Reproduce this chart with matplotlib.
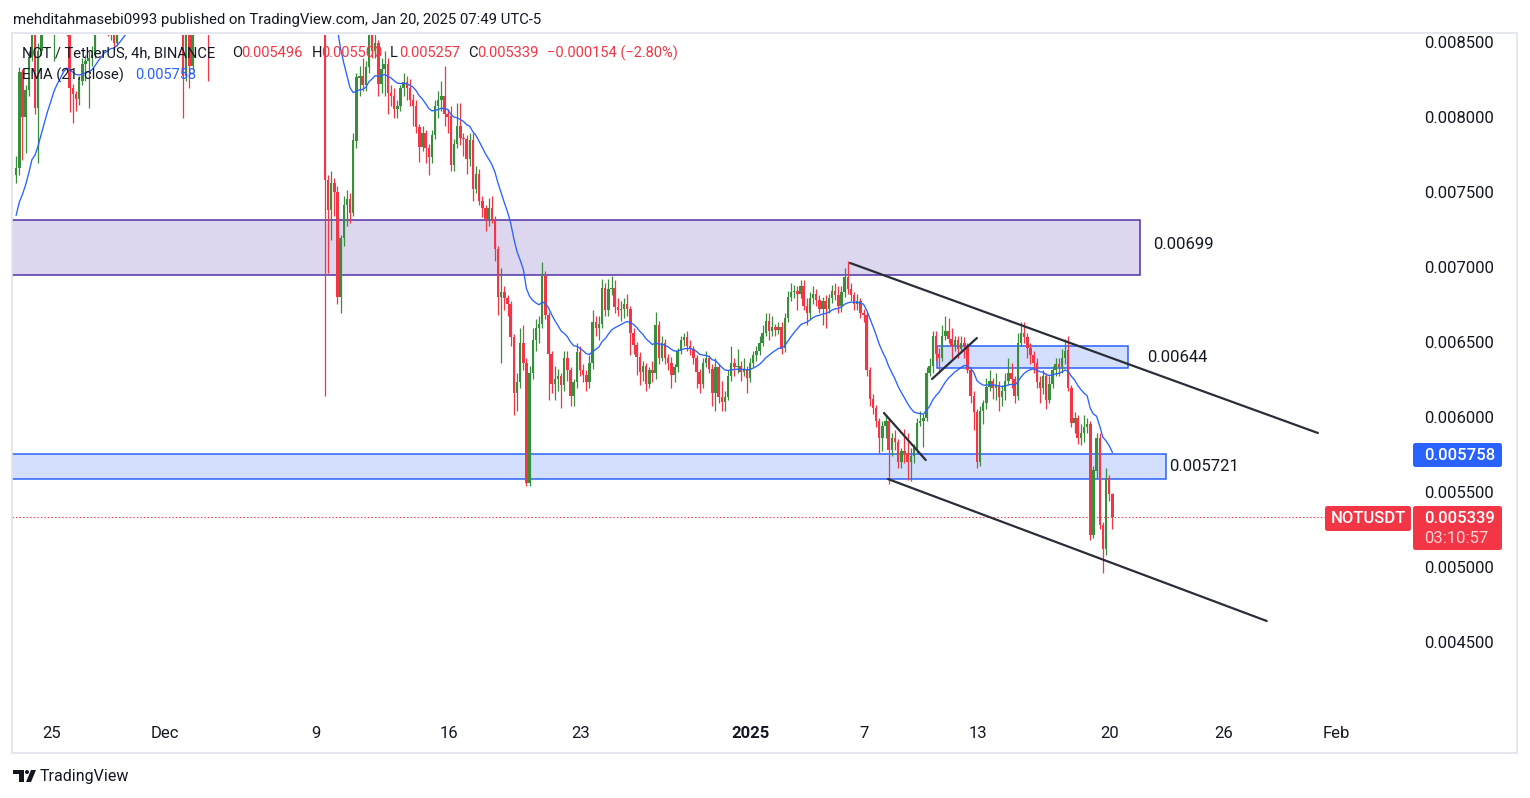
import numpy as np
import pandas as pd
import matplotlib
matplotlib.use("Agg")
import matplotlib.pyplot as plt
import matplotlib.dates as mdates
import matplotlib.transforms as mtransforms
from matplotlib.patches import Rectangle, FancyBboxPatch, Polygon, Circle

# ---------------------------------------------------------------- data
# NOTUSDT, 4h candles; prices in units of 0.00001 USDT
bar_start = "2024-11-23 03:00"
bar_hours = 4
first_open = 762.0

closes = [
    767, 831, 801, 819, 841, 862, 807, 845, 868, 872,
    880, 875, 885, 870, 866, 872, 860, 820, 816, 813,
    825, 836, 838, 840, 842, 862, 870, 866, 872, 858,
    862, 850, 866, 875, 882,
    885, 890, 880, 895, 905, 900, 910, 920, 915, 925, 930, 920, 910, 905, 915, 900, 890, 880,
    828, 858, 835, 875, 885, 890, 880, 888, 870,
    890, 900, 910, 905, 915, 925, 935, 930, 940, 950, 945, 955, 960, 950, 945, 955, 965, 960,
    950, 940, 945, 935, 930, 940, 945, 938, 930, 925, 935, 940, 932, 928, 935, 930, 938, 935,
    759, 739, 757, 751, 681, 720, 742, 746, 737, 785, 827, 828,
    822, 834, 862, 845, 850, 823, 833, 836, 817, 815,
    806, 808, 820, 824, 820, 812, 808, 794, 781, 790,
    780, 774, 789, 808, 812, 815, 803, 801, 769, 783,
    795, 787, 786, 773, 785, 753, 763, 745, 740, 733,
    740, 732, 713, 681, 684, 680, 676, 654, 617, 624,
    650, 637, 557, 630, 652, 660, 663, 695, 669, 643,
    623, 626, 628, 622, 640, 632, 615, 624, 644, 632,
    629, 624, 637, 664, 660, 663, 687, 672, 686, 687,
    674, 672, 673, 676, 673, 657, 649, 641, 631, 635,
    623, 632, 630, 662, 640, 650, 640, 637, 629, 634,
    645, 652, 654, 648, 646, 640, 631, 623, 637, 640,
    633, 617, 634, 614, 611, 614, 628, 637, 634, 635,
    631, 633, 627, 637, 642, 645, 650, 657, 665, 658,
    661, 659, 661, 647, 667, 681, 684, 685, 683, 688,
    675, 670, 680, 683, 679, 673, 678, 673, 680, 685,
    682, 675, 684, 694, 686, 682, 676, 678, 670, 669,
    632, 613, 607, 598, 587, 595, 598, 579, 587, 584,
    571, 578, 577, 571, 575, 580, 597, 598, 600, 630,
    635, 655, 643, 640, 655, 658, 653, 648, 652, 646,
    650, 648, 632, 615, 604, 571, 605, 610, 621, 625,
    620, 622, 614, 618, 625, 630, 626, 615, 650, 657,
    654, 647, 642, 637, 624, 620, 628, 612, 623, 632,
    636, 634, 640, 645, 620, 597, 600, 587, 590, 594,
    596, 522, 565, 587, 529, 513, 560, 549.3, 533.9,
]

highs = [
    775, 834, 833, 822, 845, 870, 865, 850, 880, 885,
    890, 888, 892, 888, 878, 880, 875, 862, 823, 818,
    828, 840, 842, 845, 848, 866, 878, 875, 880, 875,
    870, 865, 870, 880, 890,
    893, 898, 892, 900, 912, 910, 915, 928, 925, 930, 938, 932, 922, 912, 920, 918, 905, 895,
    885, 865, 862, 880, 892, 898, 895, 895, 895,
    895, 905, 915, 912, 920, 930, 940, 940, 945, 955, 955, 960, 968, 965, 952, 960, 972, 970,
    962, 952, 950, 948, 938, 945, 952, 948, 940, 935, 940, 946, 942, 936, 940, 938, 944, 942,
    940, 762, 765, 760, 755, 722, 748, 752, 750, 790, 830, 835,
    840, 838, 870, 870, 858, 852, 840, 845, 840, 822,
    820, 812, 822, 830, 828, 826, 816, 812, 796, 795,
    792, 783, 792, 812, 818, 825, 835, 806, 808, 786,
    810, 810, 790, 789, 790, 790, 768, 766, 748, 742,
    747, 748, 735, 715, 700, 688, 682, 678, 656, 630,
    660, 662, 640, 635, 660, 666, 668, 704, 698, 671,
    645, 635, 633, 630, 645, 645, 634, 626, 650, 648,
    636, 632, 642, 672, 668, 668, 693, 690, 693, 695,
    692, 680, 678, 680, 683, 675, 660, 651, 644, 638,
    637, 634, 638, 671, 665, 655, 653, 643, 641, 636,
    647, 655, 657, 658, 652, 648, 642, 633, 640, 645,
    642, 636, 640, 636, 625, 618, 632, 648, 640, 646,
    638, 640, 635, 640, 645, 648, 655, 662, 670, 670,
    668, 663, 664, 664, 670, 685, 690, 689, 688, 692,
    692, 680, 684, 688, 686, 682, 681, 682, 683, 689,
    690, 688, 688, 700, 705, 690, 684, 683, 680, 673,
    671, 634, 616, 609, 600, 598, 602, 600, 590, 592,
    586, 580, 593, 590, 580, 583, 600, 605, 603, 634,
    640, 658, 658, 647, 662, 668, 667, 660, 655, 655,
    655, 654, 650, 634, 618, 606, 608, 612, 627, 632,
    627, 630, 625, 622, 630, 640, 637, 628, 657, 664,
    664, 657, 650, 645, 640, 628, 632, 630, 628, 635,
    640, 640, 646, 653, 655, 622, 604, 602, 596, 602,
    600, 598, 568, 590, 590, 531, 567, 562, 550,
]

lows = [
    757, 762, 772, 777, 815, 838, 803, 770, 842, 860,
    865, 862, 838, 864, 856, 862, 855, 804, 797, 805,
    809, 822, 825, 807, 835, 840, 860, 858, 862, 855,
    852, 845, 848, 862, 870,
    875, 878, 872, 876, 890, 894, 896, 905, 908, 910, 920, 912, 902, 898, 900, 895, 880, 870,
    800, 825, 820, 832, 870, 878, 872, 875, 825,
    862, 885, 895, 898, 900, 910, 920, 922, 925, 935, 938, 940, 950, 945, 938, 940, 952, 955,
    945, 935, 935, 930, 922, 925, 935, 932, 925, 918, 920, 930, 926, 920, 925, 924, 928, 928,
    615, 697, 719, 735, 676, 670, 715, 728, 730, 735, 780, 815,
    818, 818, 830, 840, 840, 815, 817, 815, 803, 808,
    800, 800, 805, 815, 812, 808, 795, 790, 771, 778,
    770, 762, 770, 786, 800, 805, 795, 790, 765, 765,
    780, 782, 775, 763, 768, 745, 750, 742, 734, 725,
    728, 730, 705, 669, 637, 672, 668, 648, 602, 605,
    620, 632, 555, 555, 626, 645, 650, 660, 666, 612,
    617, 612, 618, 607, 618, 625, 608, 608, 620, 628,
    624, 618, 620, 633, 655, 652, 660, 668, 668, 682,
    670, 668, 665, 667, 668, 642, 643, 629, 622, 625,
    618, 620, 624, 626, 636, 638, 636, 632, 620, 624,
    631, 643, 648, 645, 642, 636, 620, 617, 620, 634,
    630, 608, 605, 610, 605, 605, 612, 625, 628, 630,
    625, 628, 617, 624, 634, 638, 642, 648, 655, 652,
    655, 655, 656, 643, 644, 664, 678, 680, 672, 680,
    672, 662, 666, 676, 675, 670, 662, 660, 670, 677,
    679, 670, 671, 681, 683, 678, 672, 672, 667, 664,
    628, 608, 603, 594, 577, 578, 587, 556, 575, 579,
    567, 567, 570, 559, 558, 570, 577, 595, 581, 598,
    628, 630, 638, 630, 638, 652, 650, 640, 645, 640,
    644, 640, 630, 610, 592, 567, 568, 596, 606, 618,
    613, 612, 605, 608, 612, 622, 620, 610, 612, 648,
    650, 640, 636, 630, 620, 610, 616, 606, 610, 620,
    628, 628, 630, 636, 618, 594, 590, 583, 582, 584,
    590, 519, 520, 560, 526, 497, 509, 545, 525.7,
]

ema_length = 21
ema_seed = 732.0          # EMA value carried in from before the first bar

last_price = 0.005339
ema_last_value = 0.005758

price_ticks = [0.0085, 0.0080, 0.0075, 0.0070, 0.0065, 0.0060, 0.0055, 0.0050, 0.0045]
time_tick_dates = ["2024-11-25", "2024-12-01", "2024-12-09", "2024-12-16", "2024-12-23",
                   "2025-01-01", "2025-01-07", "2025-01-13", "2025-01-20", "2025-01-26",
                   "2025-02-01"]
time_tick_labels = ["25", "Dec", "9", "16", "23", "2025", "7", "13", "20", "26", "Feb"]

zone_names = ["0.00699", "0.00644", "0.005721"]
zone_low = [0.006951, 0.006331, 0.005591]
zone_high = [0.007318, 0.006482, 0.005760]
zone_start = ["2024-11-10 00:00", "2025-01-10 20:00", "2024-11-10 00:00"]
zone_end = ["2025-01-21 14:00", "2025-01-20 23:00", "2025-01-22 23:00"]

trend_t0 = ["2025-01-06 06:00", "2025-01-08 06:00", "2025-01-08 01:00", "2025-01-10 14:00"]
trend_p0 = [0.0070333, 0.0055933, 0.0060333, 0.0062600]
trend_t1 = ["2025-01-31 00:00", "2025-01-28 07:00", "2025-01-10 06:00", "2025-01-12 23:00"]
trend_p1 = [0.0059000, 0.0046467, 0.0057200, 0.0065333]

header_text = "mehditahmasebi0993 published on TradingView.com, Jan 20, 2025 07:49 UTC-5"
legend_symbol = "NOT / TetherUS, 4h, BINANCE"
legend_ohlc = [("O", "0.005496"), ("H", "0.005500"), ("L", "0.005257"), ("C", "0.005339")]
legend_change = "\u22120.000154 (\u22122.80%)"
ema_legend = "EMA (21, close)"
ema_legend_value = "0.005758"
symbol_tag = "NOTUSDT"
countdown = "03:10:57"

# ---------------------------------------------------------------- style
W, H, DPI = 1530, 798, 100
GREEN = "#388E3C"
RED = "#F23645"
BLUE = "#2962FF"
TXT = "#131722"
FONT = ["Roboto", "DejaVu Sans"]
plt.rcParams["font.family"] = FONT
FS_HEAD = 10.7
FS_LEG = 10.5
FS_AX = 12

fig = plt.figure(figsize=(W / DPI, H / DPI), dpi=DPI, facecolor="white")

PX_L, PX_R, PX_T, PX_B = 12, 1410, 35, 722
ax = fig.add_axes([PX_L / W, 1 - PX_B / H, (PX_R - PX_L) / W, (PX_B - PX_T) / H])
ax.set_facecolor("white")
for s in ax.spines.values():
    s.set_visible(False)

# scales: 18.9 px per day, 150 px per 0.001
dec1 = mdates.date2num(pd.Timestamp("2024-12-01"))
px_per_day = 18.9
x_left = dec1 - (165 - PX_L) / px_per_day
x_right = dec1 + (PX_R - 165) / px_per_day
ax.set_xlim(x_left, x_right)
y_top = 0.0085 + (43 - PX_T) / 150000
y_bot = 0.0085 - (PX_B - 43) / 150000
ax.set_ylim(y_bot, y_top)

# pixel helper transforms (x,y measured from top-left in pixels)
pix = mtransforms.Affine2D().scale(1.0 / W, -1.0 / H).translate(0, 1) + fig.transFigure
xpix_ydata = mtransforms.blended_transform_factory(pix, ax.transData)
xdata_ypix = mtransforms.blended_transform_factory(ax.transData, pix)

# ---------------------------------------------------------------- candles
c = np.asarray(closes, float) * 1e-5
hi = np.asarray(highs, float) * 1e-5
lo = np.asarray(lows, float) * 1e-5
o = np.concatenate([[first_open], np.asarray(closes[:-1], float)]) * 1e-5
hi = np.maximum(hi, np.maximum(o, c))
lo = np.minimum(lo, np.minimum(o, c))
times = pd.date_range(bar_start, periods=len(c), freq=f"{bar_hours}h")
xt = mdates.date2num(times.to_pydatetime())
up = c >= o
cols = np.where(up, GREEN, RED)

# zones (beneath candles)
zone_face = ["#DCD6EE", "#D3DFFD", "#D3DFFD"]
zone_edge = ["#5231A6", BLUE, BLUE]
for k in range(len(zone_names)):
    t0 = mdates.date2num(pd.Timestamp(zone_start[k]))
    t1 = mdates.date2num(pd.Timestamp(zone_end[k]))
    ax.add_patch(Rectangle((t0, zone_low[k]), t1 - t0, zone_high[k] - zone_low[k],
                           facecolor=zone_face[k], edgecolor=zone_edge[k], lw=1.1, zorder=1))

ax.vlines(xt, lo, hi, colors=cols, linewidth=0.9, zorder=3)
bw = bar_hours / 24 * 0.78
body = np.maximum(np.abs(c - o), 0.000006)
ax.bar(xt, body, width=bw, bottom=np.minimum(o, c), color=cols, linewidth=0, zorder=4)

# EMA 21
alpha = 2.0 / (ema_length + 1)
ema = []
e = ema_seed * 1e-5
for v in c:
    e = e + alpha * (v - e)
    ema.append(e)
ax.plot(xt, ema, color=BLUE, lw=0.95, zorder=5)

# trend lines
for k in range(len(trend_t0)):
    ax.plot([mdates.date2num(pd.Timestamp(trend_t0[k])), mdates.date2num(pd.Timestamp(trend_t1[k]))],
            [trend_p0[k], trend_p1[k]], color="#2A2E39", lw=1.6, solid_capstyle="round", zorder=6)

# last price dotted line
ax.plot([x_left, x_right], [last_price, last_price], color=RED, lw=0.8,
        linestyle=(0, (1.2, 2.0)), zorder=2)

ax.set_xticks([])
ax.set_yticks([])

# zone labels
zone_label_x = [1153, 1147, 1169]
zone_label_dy = [-3, 0, 0]
for k in range(len(zone_names)):
    ym = (zone_low[k] + zone_high[k]) / 2 - zone_label_dy[k] / 150000
    fig.text(zone_label_x[k], ym, zone_names[k], transform=xpix_ydata, ha="left",
             va="center", fontsize=FS_AX, color=TXT)

# ---------------------------------------------------------------- price scale
for p in price_ticks:
    fig.text(1424, p, f"{p:.6f}", transform=xpix_ydata, ha="left", va="center",
             fontsize=FS_AX, color=TXT)

def box(x0, y0, x1, y1, color):
    fig.add_artist(FancyBboxPatch((x0, y0), x1 - x0, y1 - y0,
                                  boxstyle="round,pad=0,rounding_size=2.5",
                                  transform=pix, facecolor=color, edgecolor="none"))

box(1413, 443, 1502, 467, BLUE)
fig.text(1424, 455.5, f"{ema_last_value:.6f}", transform=pix, ha="left", va="center",
         fontsize=FS_AX, color="white", fontweight="medium")
box(1325, 506, 1411, 531, RED)
fig.text(1368, 518.5, symbol_tag, transform=pix, ha="center", va="center",
         fontsize=FS_AX, color="white", fontweight="medium")
box(1413, 506, 1502, 550, RED)
fig.text(1424, 518.5, f"{last_price:.6f}", transform=pix, ha="left", va="center",
         fontsize=FS_AX, color="white", fontweight="medium")
fig.text(1424, 538.5, countdown, transform=pix, ha="left", va="center",
         fontsize=FS_AX, color="#FBD3D7")

# ---------------------------------------------------------------- time axis
for d, lab in zip(time_tick_dates, time_tick_labels):
    fig.text(mdates.date2num(pd.Timestamp(d)), 733, lab, transform=xdata_ypix,
             ha="center", va="center", fontsize=FS_AX, color=TXT,
             fontweight="bold" if lab == "2025" else "normal")

# ---------------------------------------------------------------- frame
fig.add_artist(Rectangle((12, 33), 1505, 720, transform=pix, facecolor="none",
                         edgecolor="#E0E3EB", lw=1.2))

# ---------------------------------------------------------------- header & legend
fig.text(13, 20, header_text, transform=pix, ha="left", va="center", fontsize=FS_HEAD, color=TXT)
fig.text(22, 53, legend_symbol, transform=pix, ha="left", va="center", fontsize=FS_LEG, color=TXT)
ohlc_x = [232, 312, 390, 468]
for (k, v), xx in zip(legend_ohlc, ohlc_x):
    fig.text(xx, 53, k, transform=pix, ha="left", va="center", fontsize=FS_LEG, color=TXT)
    fig.text(xx + 9, 53, v, transform=pix, ha="left", va="center", fontsize=FS_LEG, color=RED)
fig.text(547, 53, legend_change, transform=pix, ha="left", va="center", fontsize=FS_LEG, color=RED)
fig.text(22, 75, ema_legend, transform=pix, ha="left", va="center", fontsize=FS_LEG, color=TXT)
fig.text(135, 75, ema_legend_value, transform=pix, ha="left", va="center", fontsize=FS_LEG, color=BLUE)

# ---------------------------------------------------------------- footer logo
fig.add_artist(Polygon([[13, 770], [24, 770], [24, 782], [19.5, 782], [19.5, 774], [13, 774]],
                       closed=True, transform=pix, facecolor=TXT, edgecolor="none"))
fig.add_artist(Circle((27, 772), 2.0, transform=pix, facecolor=TXT, edgecolor="none"))
fig.add_artist(Polygon([[31, 770], [36, 770], [31, 782], [26, 782]], closed=True,
                       transform=pix, facecolor=TXT, edgecolor="none"))
fig.text(40, 776, "TradingView", transform=pix, ha="left", va="center", fontsize=11.5,
         color=TXT)

fig.savefig("out.png", dpi=DPI, facecolor="white")
